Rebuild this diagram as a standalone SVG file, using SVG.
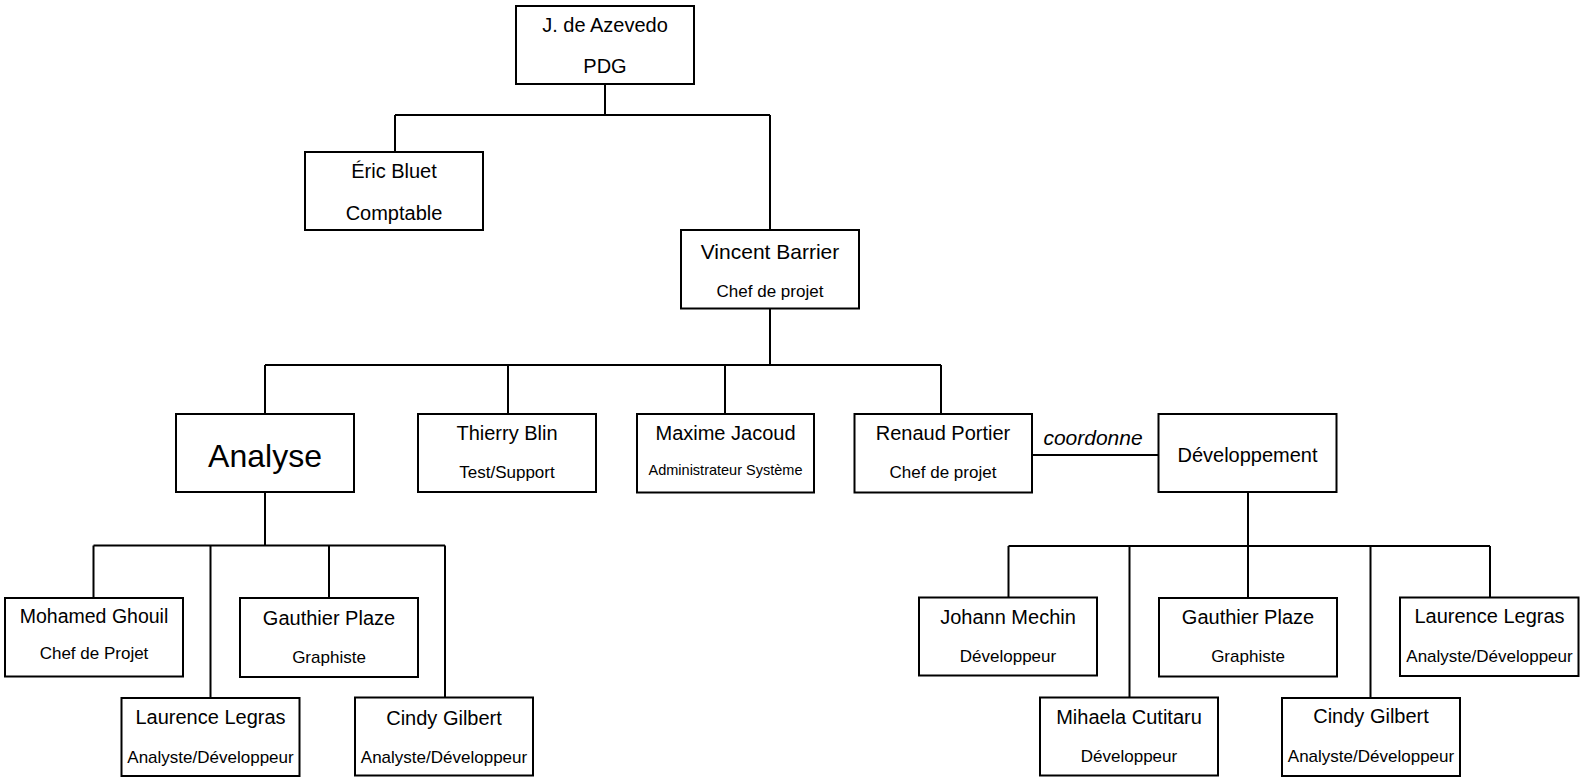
<svg xmlns="http://www.w3.org/2000/svg" width="1585" height="783" viewBox="0 0 1585 783">
<style>
.box{fill:#fff;stroke:#000;stroke-width:2}
.ln{fill:none;stroke:#000;stroke-width:2}
text{font-family:"Liberation Sans",Arial,sans-serif;fill:#000;text-anchor:middle}
.n{font-size:20px}
.s{font-size:17px}
.xs{font-size:14.5px}
.big{font-size:32px}
.it{font-size:21px;font-style:italic}
</style>
<rect width="1585" height="783" fill="#fff"/>
<g id="connectors">
<path class="ln" d="M605,84V115M395,115H770M395,115V152M770,115V230"/>
<path class="ln" d="M770,309V365M265,365H941M265,365V414M508,365V414M725,365V414M941,365V414"/>
<path class="ln" d="M1032,455H1158"/>
<text class="it" x="1093" y="445">coordonne</text>
<path class="ln" d="M265,492V545.5M93.5,545.5H445M93.5,545.5V598M210.5,545.5V698M329,545.5V598M445,545.5V697.5"/>
<path class="ln" d="M1248,492V546M1008.5,546H1490M1008.5,546V597.5M1129.5,546V697.5M1248,546V598M1370.5,546V698M1490,546V597.5"/>
</g>
<g id="azevedo"><rect class="box" x="516" y="6" width="178" height="78"/><text class="n" x="605" y="32">J. de Azevedo</text><text class="n" x="605" y="73">PDG</text></g>
<g id="bluet"><rect class="box" x="305" y="152" width="178" height="78"/><text class="n" x="394" y="178">Éric Bluet</text><text class="n" x="394" y="220">Comptable</text></g>
<g id="barrier"><rect class="box" x="681" y="230" width="178" height="78.5"/><text class="n" x="770" y="259" style="font-size:21px">Vincent Barrier</text><text class="s" x="770" y="297">Chef de projet</text></g>
<g id="analyse"><rect class="box" x="176" y="414" width="178" height="78"/><text class="big" x="265" y="467">Analyse</text></g>
<g id="blin"><rect class="box" x="418" y="414" width="178" height="78"/><text class="n" x="507" y="440">Thierry Blin</text><text class="s" x="507" y="478">Test/Support</text></g>
<g id="jacoud"><rect class="box" x="637" y="414" width="177" height="78.5"/><text class="n" x="725.5" y="440">Maxime Jacoud</text><text class="xs" x="725.5" y="475">Administrateur Système</text></g>
<g id="portier"><rect class="box" x="854.5" y="414" width="177.5" height="78.5"/><text class="n" x="943" y="440">Renaud Portier</text><text class="s" x="943" y="478">Chef de projet</text></g>
<g id="developpement"><rect class="box" x="1158.5" y="414" width="178" height="78"/><text class="n" x="1247.5" y="461.5">Développement</text></g>
<g id="ghouil"><rect class="box" x="5" y="598" width="178" height="78.5"/><text class="n" x="94" y="623" style="font-size:19.5px">Mohamed Ghouil</text><text class="s" x="94" y="658.5">Chef de Projet</text></g>
<g id="plaze1"><rect class="box" x="240" y="598" width="178" height="79"/><text class="n" x="329" y="625">Gauthier Plaze</text><text class="s" x="329" y="662.5">Graphiste</text></g>
<g id="legras1"><rect class="box" x="121.5" y="698" width="178" height="78"/><text class="n" x="210.5" y="724">Laurence Legras</text><text class="s" x="210.5" y="763">Analyste/Développeur</text></g>
<g id="gilbert1"><rect class="box" x="355" y="697.5" width="178" height="78"/><text class="n" x="444" y="725">Cindy Gilbert</text><text class="s" x="444" y="763">Analyste/Développeur</text></g>
<g id="mechin"><rect class="box" x="919" y="597.5" width="178" height="78"/><text class="n" x="1008" y="624">Johann Mechin</text><text class="s" x="1008" y="661.5">Développeur</text></g>
<g id="cutitaru"><rect class="box" x="1040" y="697.5" width="178" height="78"/><text class="n" x="1129" y="723.5">Mihaela Cutitaru</text><text class="s" x="1129" y="761.5">Développeur</text></g>
<g id="plaze2"><rect class="box" x="1159" y="598" width="178" height="78.5"/><text class="n" x="1248" y="623.5">Gauthier Plaze</text><text class="s" x="1248" y="661.5">Graphiste</text></g>
<g id="gilbert2"><rect class="box" x="1282" y="698" width="178" height="78"/><text class="n" x="1371" y="722.5">Cindy Gilbert</text><text class="s" x="1371" y="761.5">Analyste/Développeur</text></g>
<g id="legras2"><rect class="box" x="1400" y="597.5" width="178.5" height="78.5"/><text class="n" x="1489.5" y="622.5">Laurence Legras</text><text class="s" x="1489.5" y="661.5">Analyste/Développeur</text></g>
</svg>
